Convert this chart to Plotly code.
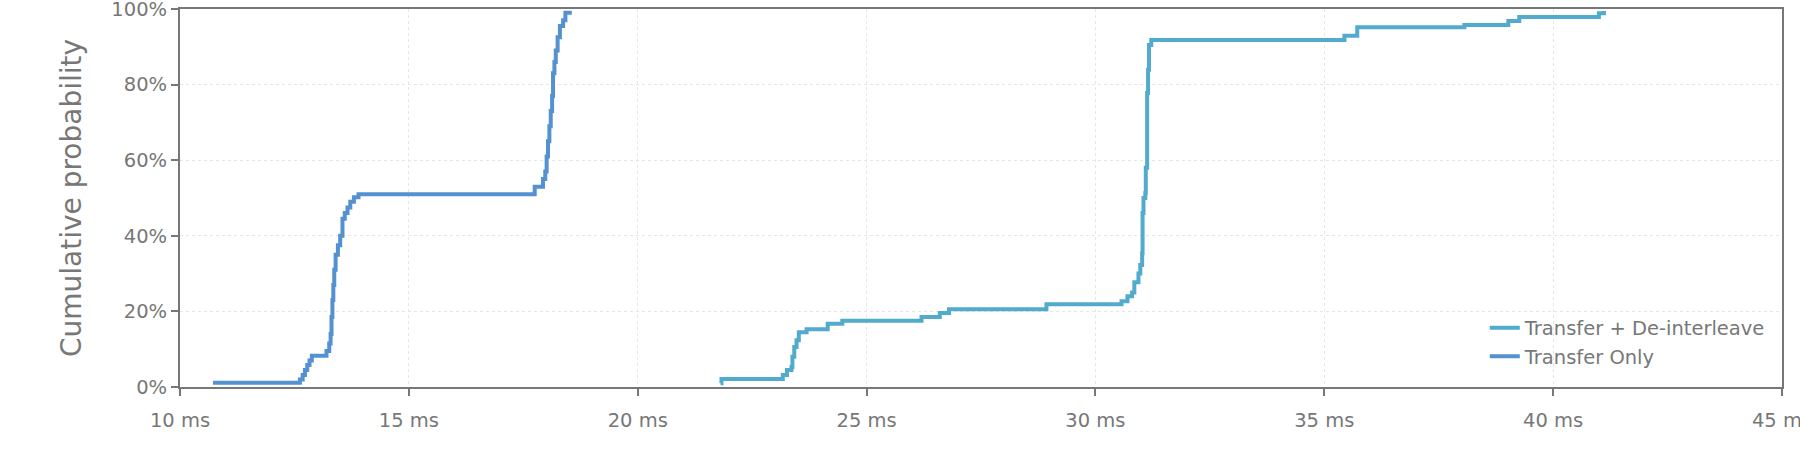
import plotly.graph_objects as go

# ECDF steps (x in ms, y in %)
deint_ms = [21.81, 21.83, 23.17, 23.26, 23.36, 23.38, 23.42, 23.47, 23.52, 23.69,
            24.15, 24.47, 26.20, 26.60, 26.80, 28.93, 30.57, 30.70, 30.80, 30.85,
            30.94, 30.98, 31.02, 31.03, 31.05, 31.09, 31.10, 31.13, 31.15, 31.17,
            31.22, 35.44, 35.72, 38.06, 39.02, 39.26, 41.00, 41.11]
deint_pct = [1.0, 2.1, 3.2, 4.5, 5.3, 8.0, 10.6, 12.4, 14.5, 15.3,
             16.7, 17.5, 18.5, 19.6, 20.6, 21.9, 22.7, 24.0, 25.0, 27.7,
             30.0, 32.3, 35.4, 46.0, 50.0, 51.3, 58.0, 77.8, 83.9, 90.5,
             91.8, 92.9, 95.2, 95.8, 96.8, 97.9, 98.9, 99.5]

xfer_ms = [10.72, 12.62, 12.68, 12.73, 12.78, 12.83, 12.88, 13.20, 13.26, 13.29,
           13.31, 13.33, 13.35, 13.37, 13.40, 13.45, 13.50, 13.55, 13.60, 13.66,
           13.72, 13.80, 13.90, 17.75, 17.93, 17.98, 18.01, 18.04, 18.07, 18.10,
           18.13, 18.15, 18.18, 18.21, 18.25, 18.30, 18.37, 18.42, 18.56]
xfer_pct = [1.1, 2.0, 3.2, 4.5, 5.8, 7.0, 8.3, 9.5, 11.5, 14.0,
            18.5, 23.0, 27.0, 31.0, 35.0, 37.5, 40.0, 44.5, 46.0, 47.5,
            49.0, 50.2, 51.0, 53.0, 55.0, 57.0, 61.0, 65.0, 69.0, 73.0,
            77.0, 83.0, 86.0, 89.0, 92.5, 95.5, 97.0, 99.0, 99.0]

x_ticks = [10, 15, 20, 25, 30, 35, 40, 45]
y_ticks = [0, 20, 40, 60, 80, 100]

GREY = '#777777'

fig = go.Figure()
fig.add_trace(go.Scatter(x=deint_ms, y=deint_pct, mode='lines', line_shape='hv',
                         name='Transfer + De-interleave',
                         line=dict(color='#52aacc', width=4)))
fig.add_trace(go.Scatter(x=xfer_ms, y=xfer_pct, mode='lines', line_shape='hv',
                         name='Transfer Only',
                         line=dict(color='#5491d0', width=4)))

axis_style = dict(showline=True, mirror=True, linecolor=GREY, linewidth=2,
                  ticks='outside', ticklen=7, tickwidth=2, tickcolor=GREY,
                  showgrid=True, gridcolor='#e6e6e6', griddash='dot', gridwidth=1,
                  zeroline=False, ticklabeloverflow='allow', automargin=False,
                  tickfont=dict(size=19.5, color=GREY))

fig.update_xaxes(range=[10, 45], tickvals=x_ticks, ticktext=[f'{v} ms' for v in x_ticks],
                 ticklabelstandoff=8, **axis_style)
fig.update_yaxes(range=[0, 100], tickvals=y_ticks, ticktext=[f'{v}%' for v in y_ticks],
                 title=dict(text='Cumulative probability', standoff=22,
                            font=dict(size=28, color=GREY)),
                 **axis_style)

fig.update_layout(
    width=1800, height=450,
    margin=dict(l=180, r=18, t=9, b=63),
    plot_bgcolor='white', paper_bgcolor='white',
    font=dict(family='DejaVu Sans', color=GREY),
    legend=dict(x=0.993, y=0.03, xanchor='right', yanchor='bottom',
                bgcolor='rgba(0,0,0,0)', font=dict(size=19.5, color=GREY)),
)

# drop the page's default 8px body margin so the figure sits at the corner
fig.write_html('out.html', config={'displayModeBar': False},
               post_script="document.body.style.margin = '0';")
